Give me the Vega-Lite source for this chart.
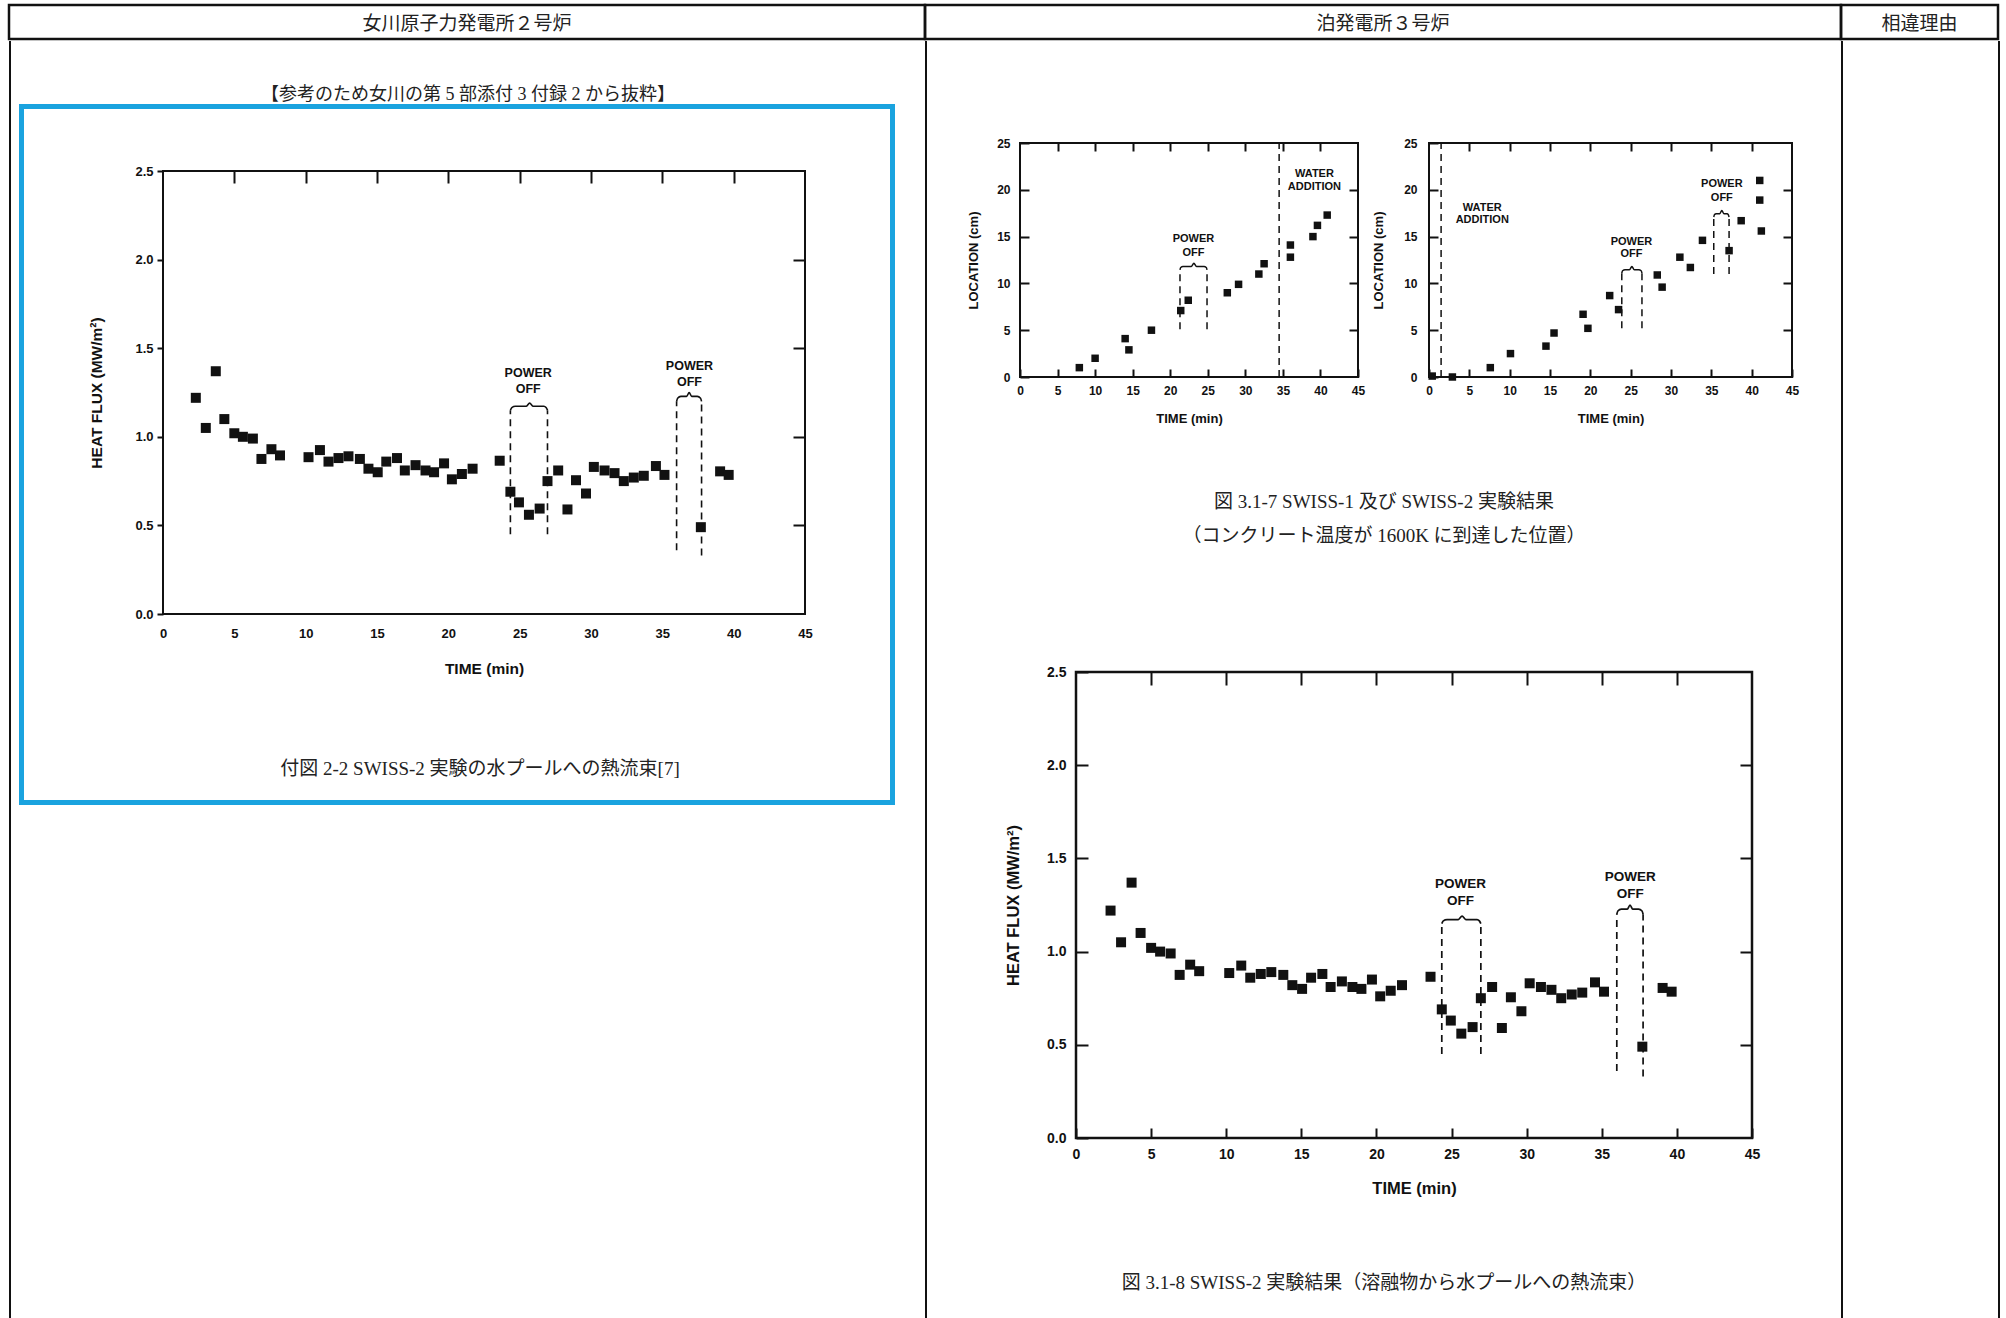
{
"$schema": "https://vega.github.io/schema/vega-lite/v6.json",
"padding": {"left": 7, "top": 3, "right": 0, "bottom": 0},
"background": "white",
"config": {
  "view": {"stroke": null},
  "concat": {"spacing": 0},
  "axis": {"labelFont": "Liberation Sans", "titleFont": "Liberation Sans", "labelFontWeight": "bold", "titleFontWeight": "bold", "labelColor": "#111", "titleColor": "#111", "tickColor": "#111", "tickWidth": 2, "grid": false, "domain": false, "labelFlush": false, "labelOverlap": false}
},
"datasets": {
  "heat": [
    {"t":2.3,"v":1.22},{"t":3.0,"v":1.05},{"t":3.7,"v":1.37},{"t":4.3,"v":1.10},{"t":5.0,"v":1.02},{"t":5.6,"v":1.00},{"t":6.3,"v":0.99},{"t":6.9,"v":0.875},{"t":7.6,"v":0.93},{"t":8.2,"v":0.895},
    {"t":10.2,"v":0.885},{"t":11.0,"v":0.925},{"t":11.6,"v":0.86},{"t":12.3,"v":0.88},{"t":13.0,"v":0.89},{"t":13.8,"v":0.875},{"t":14.4,"v":0.82},{"t":15.05,"v":0.80},{"t":15.65,"v":0.86},{"t":16.4,"v":0.88},
    {"t":16.95,"v":0.81},{"t":17.7,"v":0.84},{"t":18.4,"v":0.81},{"t":19.0,"v":0.80},{"t":19.7,"v":0.85},{"t":20.25,"v":0.76},{"t":20.95,"v":0.79},{"t":21.7,"v":0.82},{"t":23.6,"v":0.865},{"t":24.35,"v":0.69},
    {"t":24.95,"v":0.63},{"t":25.65,"v":0.56},{"t":26.4,"v":0.595},{"t":26.95,"v":0.75},{"t":27.7,"v":0.81},{"t":28.35,"v":0.59},{"t":28.95,"v":0.755},{"t":29.65,"v":0.68},{"t":30.2,"v":0.83},{"t":30.95,"v":0.81},
    {"t":31.65,"v":0.795},{"t":32.3,"v":0.75},{"t":33.0,"v":0.77},{"t":33.7,"v":0.78},{"t":34.55,"v":0.835},{"t":35.15,"v":0.785},{"t":37.7,"v":0.49},{"t":39.05,"v":0.805},{"t":39.65,"v":0.785}
  ],
  "heatRules": [{"t":24.35,"y1":0.45,"y2":1.15},{"t":26.95,"y1":0.45,"y2":1.15},{"t":36.0,"y1":0.36,"y2":1.2},{"t":37.75,"y1":0.33,"y2":1.2}],
  "heatBraces": [
    {"id":1,"t":24.35,"v":1.15},{"id":1,"t":24.45,"v":1.165},{"id":1,"t":24.7,"v":1.172},{"id":1,"t":25.45,"v":1.172},{"id":1,"t":25.7,"v":1.19},{"id":1,"t":25.95,"v":1.172},{"id":1,"t":26.7,"v":1.172},{"id":1,"t":26.85,"v":1.165},{"id":1,"t":26.95,"v":1.15},
    {"id":2,"t":36.0,"v":1.2},{"id":2,"t":36.07,"v":1.218},{"id":2,"t":36.3,"v":1.228},{"id":2,"t":36.7,"v":1.228},{"id":2,"t":36.88,"v":1.25},{"id":2,"t":37.06,"v":1.228},{"id":2,"t":37.45,"v":1.228},{"id":2,"t":37.68,"v":1.218},{"id":2,"t":37.75,"v":1.2}
  ],
  "heatLabels": [{"t":25.6,"v":1.36,"label":"POWER"},{"t":25.6,"v":1.27,"label":"OFF"},{"t":36.9,"v":1.40,"label":"POWER"},{"t":36.9,"v":1.31,"label":"OFF"}],
  "loc1": [
    {"t":7.9,"loc":1.0},{"t":10.0,"loc":2.0},{"t":14.0,"loc":4.1},{"t":14.5,"loc":2.9},{"t":17.5,"loc":5.0},{"t":21.4,"loc":7.1},{"t":22.4,"loc":8.2},{"t":27.6,"loc":9.0},
    {"t":29.1,"loc":9.9},{"t":31.8,"loc":11.0},{"t":32.5,"loc":12.1},{"t":36.0,"loc":12.8},{"t":36.0,"loc":14.1},{"t":39.0,"loc":15.0},{"t":39.6,"loc":16.2},{"t":40.9,"loc":17.3}
  ],
  "loc1Rules": [{"t":21.3,"y1":5.1,"y2":11.45},{"t":24.9,"y1":5.1,"y2":11.45},{"t":34.5,"y1":0,"y2":25}],
  "loc1Braces": [
    {"id":1,"t":21.3,"v":11.45},{"id":1,"t":21.4,"v":11.7},{"id":1,"t":21.7,"v":11.8},{"id":1,"t":22.8,"v":11.8},{"id":1,"t":23.15,"v":12.15},{"id":1,"t":23.5,"v":11.8},{"id":1,"t":24.5,"v":11.8},{"id":1,"t":24.8,"v":11.7},{"id":1,"t":24.9,"v":11.45}
  ],
  "loc1Labels": [{"t":23.1,"v":14.7,"label":"POWER"},{"t":23.1,"v":13.3,"label":"OFF"},{"t":39.2,"v":21.7,"label":"WATER"},{"t":39.2,"v":20.3,"label":"ADDITION"}],
  "loc2": [
    {"t":0.4,"loc":0.1},{"t":2.9,"loc":0.0},{"t":7.6,"loc":1.0},{"t":10.1,"loc":2.5},{"t":14.5,"loc":3.3},{"t":15.5,"loc":4.7},{"t":19.1,"loc":6.7},{"t":19.7,"loc":5.2},{"t":22.4,"loc":8.7},{"t":23.5,"loc":7.2},
    {"t":28.3,"loc":10.9},{"t":28.9,"loc":9.6},{"t":31.1,"loc":12.8},{"t":32.4,"loc":11.7},{"t":33.9,"loc":14.6},{"t":37.2,"loc":13.5},{"t":38.7,"loc":16.7},{"t":41.0,"loc":21.0},{"t":41.0,"loc":18.9},{"t":41.2,"loc":15.6}
  ],
  "loc2Rules": [{"t":1.5,"y1":0,"y2":25},{"t":23.9,"y1":5.2,"y2":11.1},{"t":26.4,"y1":5.2,"y2":11.1},{"t":35.3,"y1":11.0,"y2":17.1},{"t":37.2,"y1":11.0,"y2":17.1}],
  "loc2Braces": [
    {"id":1,"t":23.9,"v":11.1},{"id":1,"t":24.0,"v":11.35},{"id":1,"t":24.3,"v":11.45},{"id":1,"t":24.85,"v":11.45},{"id":1,"t":25.15,"v":11.8},{"id":1,"t":25.45,"v":11.45},{"id":1,"t":26.0,"v":11.45},{"id":1,"t":26.3,"v":11.35},{"id":1,"t":26.4,"v":11.1},
    {"id":2,"t":35.3,"v":17.1},{"id":2,"t":35.4,"v":17.35},{"id":2,"t":35.6,"v":17.45},{"id":2,"t":36.05,"v":17.45},{"id":2,"t":36.3,"v":17.8},{"id":2,"t":36.55,"v":17.45},{"id":2,"t":36.95,"v":17.45},{"id":2,"t":37.1,"v":17.35},{"id":2,"t":37.2,"v":17.1}
  ],
  "loc2Labels": [{"t":25.1,"v":14.4,"label":"POWER"},{"t":25.1,"v":13.1,"label":"OFF"},{"t":36.3,"v":20.6,"label":"POWER"},{"t":36.3,"v":19.1,"label":"OFF"},{"t":6.6,"v":18.1,"label":"WATER"},{"t":6.6,"v":16.8,"label":"ADDITION"}]
},
"spacing": 0,
"bounds": "full",
"vconcat": [
  {
    "spacing": 0, "bounds": "flush",
    "hconcat": [
      {"width": 916, "height": 34, "view": {"stroke": "#111", "strokeWidth": 2.5}, "data": {"values": [{"label": "女川原子力発電所２号炉"}]}, "mark": {"type": "text", "font": "Liberation Serif, Noto Sans CJK JP", "fontSize": 19, "dy": 2, "color": "#222"}, "encoding": {"text": {"field": "label", "type": "nominal"}}},
      {"width": 916, "height": 34, "view": {"stroke": "#111", "strokeWidth": 2.5}, "data": {"values": [{"label": "泊発電所３号炉"}]}, "mark": {"type": "text", "font": "Liberation Serif, Noto Sans CJK JP", "fontSize": 19, "dy": 2, "color": "#222"}, "encoding": {"text": {"field": "label", "type": "nominal"}}},
      {"width": 157, "height": 34, "view": {"stroke": "#111", "strokeWidth": 2.5}, "data": {"values": [{"label": "相違理由"}]}, "mark": {"type": "text", "font": "Liberation Serif, Noto Sans CJK JP", "fontSize": 19, "dy": 2, "color": "#222"}, "encoding": {"text": {"field": "label", "type": "nominal"}}}
    ]
  },
  {
    "spacing": 0, "bounds": "full",
    "hconcat": [
      {"width": 2, "height": 1279, "view": {"fill": "#111", "stroke": null}, "data": {"values": []}, "mark": "point"},
      {
        "spacing": 0, "bounds": "full",
        "vconcat": [
          {"width": 914, "height": 40, "data": {"values": []}, "mark": "point"},
          {"width": 914, "height": 23, "data": {"values": [{"label": "【参考のため女川の第 5 部添付 3 付録 2 から抜粋】"}]}, "mark": {"type": "text", "font": "Liberation Serif, Noto Sans CJK JP", "fontSize": 18, "dy": 2, "color": "#222"}, "encoding": {"text": {"field": "label", "type": "nominal"}}},
          {"spacing": 0, "bounds": "flush", "hconcat": [
            {"width": 8, "height": 5, "data": {"values": []}, "mark": "point"},
            {"width": 876, "height": 5, "view": {"fill": "#1AA3DF", "stroke": null}, "data": {"values": []}, "mark": "point"}
          ]},
          {"spacing": 0, "bounds": "full", "hconcat": [
            {"width": 8, "height": 691, "data": {"values": []}, "mark": "point"},
            {"width": 5, "height": 691, "view": {"fill": "#1AA3DF", "stroke": null}, "data": {"values": []}, "mark": "point"},
            {"spacing": 0, "bounds": "full", "vconcat": [
              {"width": 866, "height": 55, "data": {"values": []}, "mark": "point"},
              {"spacing": 0, "bounds": "flush", "hconcat": [
                {"width": 139, "height": 581, "data": {"values": []}, "mark": "point"},
                {
                  "width": 642, "height": 443,
                  "view": {"stroke": "#111", "strokeWidth": 2},
                  "layer": [
                    {"data": {"name": "heat"}, "mark": {"type": "square", "size": 100, "filled": true, "color": "#111", "opacity": 1},
                     "encoding": {
                      "x": {"field": "t", "type": "quantitative", "scale": {"domain": [0, 45], "nice": false, "zero": false},
                        "axis": {"orient": "bottom", "title": "TIME (min)", "values": [0,5,10,15,20,25,30,35,40,45], "ticks": false, "labelPadding": 13, "titlePadding": 21, "labelFontSize": 13, "titleFontSize": 15.5}},
                      "y": {"field": "v", "type": "quantitative", "scale": {"domain": [0, 2.5], "nice": false, "zero": false},
                        "axis": {"orient": "left", "title": "HEAT FLUX (MW/m²)", "values": [0,0.5,1,1.5,2,2.5], "format": ".1f", "tickSize": 6, "labelPadding": 4, "titlePadding": 30, "labelFontSize": 13, "titleFontSize": 15.5}}
                     }},
                    {"data": {"name": "heatLabels"}, "mark": {"type": "text", "font": "Liberation Sans", "fontWeight": "bold", "fontSize": 12.5, "color": "#111"},
                     "encoding": {
                      "x": {"field": "t", "type": "quantitative", "scale": {"domain": [0, 45], "nice": false, "zero": false},
                        "axis": {"orient": "top", "labels": false, "title": null, "tickSize": -12, "values": [5,10,15,20,25,30,35,40]}},
                      "y": {"field": "v", "type": "quantitative", "scale": {"domain": [0, 2.5], "nice": false, "zero": false},
                        "axis": {"orient": "right", "labels": false, "title": null, "tickSize": -12, "values": [0.5,1,1.5,2]}},
                      "text": {"field": "label", "type": "nominal"}
                     }},
                    {"data": {"name": "heatRules"}, "mark": {"type": "rule", "strokeDash": [7,5], "strokeWidth": 1.6, "color": "#111"},
                     "encoding": {"x": {"field": "t", "type": "quantitative", "axis": null}, "y": {"field": "y1", "type": "quantitative", "axis": null}, "y2": {"field": "y2"}}},
                    {"data": {"name": "heatBraces"}, "mark": {"type": "line", "interpolate": "monotone", "strokeWidth": 1.6, "color": "#111"},
                     "encoding": {"x": {"field": "t", "type": "quantitative", "axis": null}, "y": {"field": "v", "type": "quantitative", "axis": null}, "detail": {"field": "id", "type": "nominal"}}}
                  ],
                  "resolve": {"axis": {"x": "independent", "y": "independent"}}
                },
                {"width": 85, "height": 581, "data": {"values": []}, "mark": "point"}
              ]},
              {"spacing": 0, "bounds": "flush", "hconcat": [
                {"width": 46, "height": 30, "data": {"values": []}, "mark": "point"},
                {"width": 820, "height": 30, "data": {"values": [{"label": "付図 2-2 SWISS-2 実験の水プールへの熱流束[7]"}]}, "mark": {"type": "text", "font": "Liberation Serif, Noto Sans CJK JP", "fontSize": 19, "dy": 2, "color": "#222"}, "encoding": {"text": {"field": "label", "type": "nominal"}}}
              ]},
              {"width": 866, "height": 16, "data": {"values": []}, "mark": "point"}
            ]},
            {"width": 5, "height": 691, "view": {"fill": "#1AA3DF", "stroke": null}, "data": {"values": []}, "mark": "point"}
          ]},
          {"spacing": 0, "bounds": "flush", "hconcat": [
            {"width": 8, "height": 5, "data": {"values": []}, "mark": "point"},
            {"width": 876, "height": 5, "view": {"fill": "#1AA3DF", "stroke": null}, "data": {"values": []}, "mark": "point"}
          ]}
        ]
      },
      {"width": 2, "height": 1279, "view": {"fill": "#111", "stroke": null}, "data": {"values": []}, "mark": "point"},
      {
        "spacing": 0, "bounds": "full",
        "vconcat": [
          {"width": 914, "height": 95, "data": {"values": []}, "mark": "point"},
          {"spacing": 0, "bounds": "flush", "hconcat": [
            {"width": 93, "height": 343, "data": {"values": []}, "mark": "point"},
            {
              "width": 338, "height": 234,
              "view": {"stroke": "#111", "strokeWidth": 2},
              "layer": [
                {"data": {"name": "loc1"}, "mark": {"type": "square", "size": 56, "filled": true, "color": "#111", "opacity": 1},
                 "encoding": {
                  "x": {"field": "t", "type": "quantitative", "scale": {"domain": [0, 45], "nice": false, "zero": false},
                    "axis": {"orient": "bottom", "title": "TIME (min)", "values": [0,5,10,15,20,25,30,35,40,45], "tickSize": -8, "labelPadding": 16, "titlePadding": 16, "labelFontSize": 12, "titleFontSize": 13}},
                  "y": {"field": "loc", "type": "quantitative", "scale": {"domain": [0, 25], "nice": false, "zero": false},
                    "axis": {"orient": "left", "title": "LOCATION (cm)", "values": [0,5,10,15,20,25], "tickSize": -9, "labelPadding": 19, "titlePadding": 16, "labelFontSize": 12, "titleFontSize": 13}}
                 }},
                {"data": {"name": "loc1Labels"}, "mark": {"type": "text", "font": "Liberation Sans", "fontWeight": "bold", "fontSize": 11, "color": "#111"},
                 "encoding": {
                  "x": {"field": "t", "type": "quantitative", "scale": {"domain": [0, 45], "nice": false, "zero": false},
                    "axis": {"orient": "top", "labels": false, "title": null, "tickSize": -8, "values": [5,10,15,20,25,30,35,40]}},
                  "y": {"field": "v", "type": "quantitative", "scale": {"domain": [0, 25], "nice": false, "zero": false},
                    "axis": {"orient": "right", "labels": false, "title": null, "tickSize": -9, "values": [5,10,15,20]}},
                  "text": {"field": "label", "type": "nominal"}
                 }},
                {"data": {"name": "loc1Rules"}, "mark": {"type": "rule", "strokeDash": [7,5], "strokeWidth": 1.5, "color": "#111"},
                 "encoding": {"x": {"field": "t", "type": "quantitative", "axis": null}, "y": {"field": "y1", "type": "quantitative", "axis": null}, "y2": {"field": "y2"}}},
                {"data": {"name": "loc1Braces"}, "mark": {"type": "line", "interpolate": "monotone", "strokeWidth": 1.5, "color": "#111"},
                 "encoding": {"x": {"field": "t", "type": "quantitative", "axis": null}, "y": {"field": "v", "type": "quantitative", "axis": null}, "detail": {"field": "id", "type": "nominal"}}}
              ],
              "resolve": {"axis": {"x": "independent", "y": "independent"}}
            },
            {"width": 71, "height": 343, "data": {"values": []}, "mark": "point"},
            {
              "width": 363, "height": 234,
              "view": {"stroke": "#111", "strokeWidth": 2},
              "layer": [
                {"data": {"name": "loc2"}, "mark": {"type": "square", "size": 56, "filled": true, "color": "#111", "opacity": 1},
                 "encoding": {
                  "x": {"field": "t", "type": "quantitative", "scale": {"domain": [0, 45], "nice": false, "zero": false},
                    "axis": {"orient": "bottom", "title": "TIME (min)", "values": [0,5,10,15,20,25,30,35,40,45], "tickSize": -8, "labelPadding": 16, "titlePadding": 16, "labelFontSize": 12, "titleFontSize": 13}},
                  "y": {"field": "loc", "type": "quantitative", "scale": {"domain": [0, 25], "nice": false, "zero": false},
                    "axis": {"orient": "left", "title": "LOCATION (cm)", "values": [0,5,10,15,20,25], "tickSize": -9, "labelPadding": 21, "titlePadding": 18, "labelFontSize": 12, "titleFontSize": 13}}
                 }},
                {"data": {"name": "loc2Labels"}, "mark": {"type": "text", "font": "Liberation Sans", "fontWeight": "bold", "fontSize": 11, "color": "#111"},
                 "encoding": {
                  "x": {"field": "t", "type": "quantitative", "scale": {"domain": [0, 45], "nice": false, "zero": false},
                    "axis": {"orient": "top", "labels": false, "title": null, "tickSize": -8, "values": [5,10,15,20,25,30,35,40]}},
                  "y": {"field": "v", "type": "quantitative", "scale": {"domain": [0, 25], "nice": false, "zero": false},
                    "axis": {"orient": "right", "labels": false, "title": null, "tickSize": -9, "values": [5,10,15,20]}},
                  "text": {"field": "label", "type": "nominal"}
                 }},
                {"data": {"name": "loc2Rules"}, "mark": {"type": "rule", "strokeDash": [7,5], "strokeWidth": 1.5, "color": "#111"},
                 "encoding": {"x": {"field": "t", "type": "quantitative", "axis": null}, "y": {"field": "y1", "type": "quantitative", "axis": null}, "y2": {"field": "y2"}}},
                {"data": {"name": "loc2Braces"}, "mark": {"type": "line", "interpolate": "monotone", "strokeWidth": 1.5, "color": "#111"},
                 "encoding": {"x": {"field": "t", "type": "quantitative", "axis": null}, "y": {"field": "v", "type": "quantitative", "axis": null}, "detail": {"field": "id", "type": "nominal"}}}
              ],
              "resolve": {"axis": {"x": "independent", "y": "independent"}}
            },
            {"width": 49, "height": 343, "data": {"values": []}, "mark": "point"}
          ]},
          {"width": 914, "height": 28, "data": {"values": [{"label": "図 3.1-7 SWISS-1 及び SWISS-2 実験結果"}]}, "mark": {"type": "text", "font": "Liberation Serif, Noto Sans CJK JP", "fontSize": 19, "dy": 2, "color": "#222"}, "encoding": {"text": {"field": "label", "type": "nominal"}}},
          {"width": 914, "height": 6, "data": {"values": []}, "mark": "point"},
          {"width": 914, "height": 28, "data": {"values": [{"label": "（コンクリート温度が 1600K に到達した位置）"}]}, "mark": {"type": "text", "font": "Liberation Serif, Noto Sans CJK JP", "fontSize": 19, "dy": 2, "color": "#222"}, "encoding": {"text": {"field": "label", "type": "nominal"}}},
          {"width": 914, "height": 115, "data": {"values": []}, "mark": "point"},
          {"spacing": 0, "bounds": "flush", "hconcat": [
            {"width": 149, "height": 595, "data": {"values": []}, "mark": "point"},
            {
              "width": 676, "height": 466,
              "view": {"stroke": "#111", "strokeWidth": 2.5},
              "layer": [
                {"data": {"name": "heat"}, "mark": {"type": "square", "size": 100, "filled": true, "color": "#111", "opacity": 1},
                 "encoding": {
                  "x": {"field": "t", "type": "quantitative", "scale": {"domain": [0, 45], "nice": false, "zero": false},
                    "axis": {"orient": "bottom", "title": "TIME (min)", "values": [0,5,10,15,20,25,30,35,40,45], "tickSize": -10, "labelPadding": 19, "titlePadding": 19, "labelFontSize": 14, "titleFontSize": 16.5}},
                  "y": {"field": "v", "type": "quantitative", "scale": {"domain": [0, 2.5], "nice": false, "zero": false},
                    "axis": {"orient": "left", "title": "HEAT FLUX (MW/m²)", "values": [0,0.5,1,1.5,2,2.5], "format": ".1f", "tickSize": -12, "labelPadding": 22, "titlePadding": 25, "labelFontSize": 14, "titleFontSize": 16.5}}
                 }},
                {"data": {"name": "heatLabels"}, "mark": {"type": "text", "font": "Liberation Sans", "fontWeight": "bold", "fontSize": 13.5, "color": "#111"},
                 "encoding": {
                  "x": {"field": "t", "type": "quantitative", "scale": {"domain": [0, 45], "nice": false, "zero": false},
                    "axis": {"orient": "top", "labels": false, "title": null, "tickSize": -13, "values": [5,10,15,20,25,30,35,40]}},
                  "y": {"field": "v", "type": "quantitative", "scale": {"domain": [0, 2.5], "nice": false, "zero": false},
                    "axis": {"orient": "right", "labels": false, "title": null, "tickSize": -12, "values": [0.5,1,1.5,2]}},
                  "text": {"field": "label", "type": "nominal"}
                 }},
                {"data": {"name": "heatRules"}, "mark": {"type": "rule", "strokeDash": [7,5], "strokeWidth": 1.7, "color": "#111"},
                 "encoding": {"x": {"field": "t", "type": "quantitative", "axis": null}, "y": {"field": "y1", "type": "quantitative", "axis": null}, "y2": {"field": "y2"}}},
                {"data": {"name": "heatBraces"}, "mark": {"type": "line", "interpolate": "monotone", "strokeWidth": 1.7, "color": "#111"},
                 "encoding": {"x": {"field": "t", "type": "quantitative", "axis": null}, "y": {"field": "v", "type": "quantitative", "axis": null}, "detail": {"field": "id", "type": "nominal"}}}
              ],
              "resolve": {"axis": {"x": "independent", "y": "independent"}}
            },
            {"width": 89, "height": 595, "data": {"values": []}, "mark": "point"}
          ]},
          {"width": 914, "height": 28, "data": {"values": [{"label": "図 3.1-8 SWISS-2 実験結果（溶融物から水プールへの熱流束）"}]}, "mark": {"type": "text", "font": "Liberation Serif, Noto Sans CJK JP", "fontSize": 19, "dy": 2, "color": "#222"}, "encoding": {"text": {"field": "label", "type": "nominal"}}}
        ]
      },
      {"width": 2, "height": 1279, "view": {"fill": "#111", "stroke": null}, "data": {"values": []}, "mark": "point"},
      {"width": 155, "height": 1279, "data": {"values": []}, "mark": "point"},
      {"width": 2, "height": 1279, "view": {"fill": "#111", "stroke": null}, "data": {"values": []}, "mark": "point"}
    ]
  }
]
}
